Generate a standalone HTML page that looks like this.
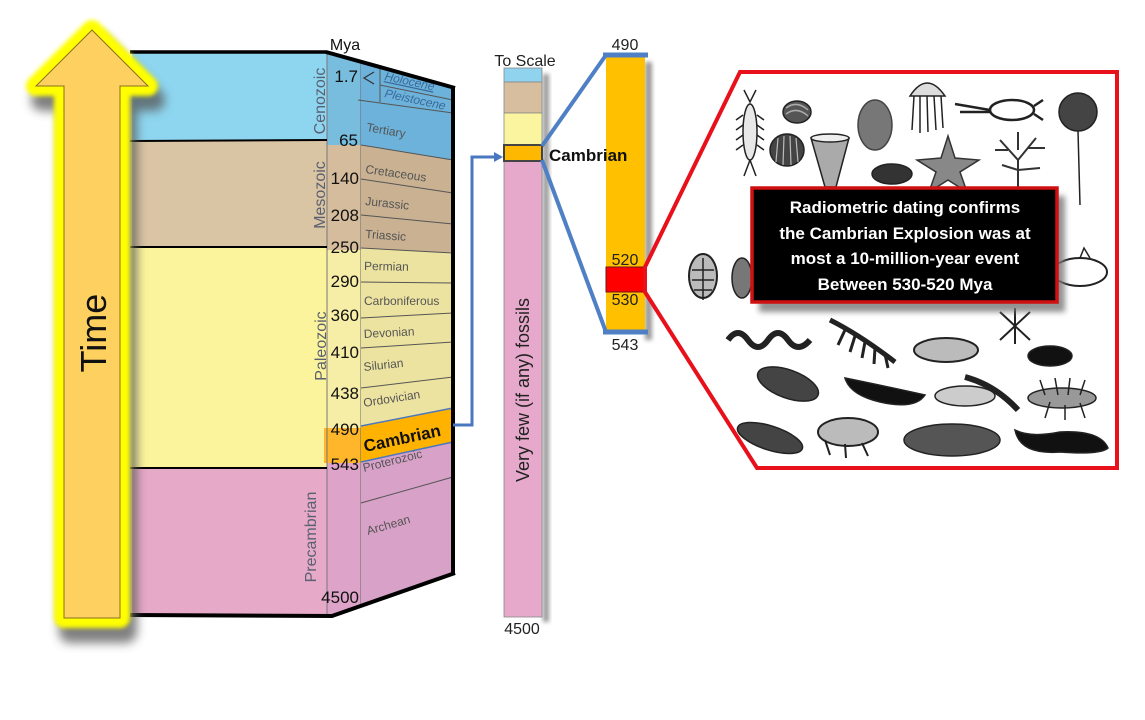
<!DOCTYPE html>
<html><head><meta charset="utf-8"><style>
html,body{margin:0;padding:0;background:#fff;}
svg{display:block;}
text{font-family:"Liberation Sans",sans-serif;}
</style></head><body>
<svg width="1145" height="720" viewBox="0 0 1145 720" xmlns="http://www.w3.org/2000/svg">
<defs>
<filter id="blur5" x="-50%" y="-50%" width="200%" height="200%"><feGaussianBlur stdDeviation="5"/></filter>
<filter id="blur2" x="-50%" y="-50%" width="200%" height="200%"><feGaussianBlur stdDeviation="2"/></filter>
<filter id="blur3" x="-50%" y="-50%" width="200%" height="200%"><feGaussianBlur stdDeviation="3"/></filter>
</defs>
<rect width="1145" height="720" fill="#fff"/>

<!-- LEFT FACE -->
<rect x="132" y="52" width="195" height="89" fill="#8ED6F0"/>
<rect x="132" y="141" width="195" height="106" fill="#D9C4A4"/>
<rect x="132" y="247" width="195" height="221" fill="#FCF49C"/>
<rect x="132" y="468" width="195" height="147" fill="#E6A9C8"/>

<!-- MIDDLE COLUMN -->
<polygon points="327,52 361,61.7 361,145 327,145" fill="#78BCDE"/>
<rect x="327" y="145" width="34" height="105" fill="#D4BC9C"/>
<rect x="327" y="250" width="34" height="178" fill="#F6EDA6"/>
<rect x="324" y="428" width="37" height="35" fill="#FFB62A"/>
<polygon points="327,463 361,463 361,605 333,615 327,615" fill="#DDA3C8"/>
<line x1="327" y1="52" x2="327" y2="615" stroke="#777" stroke-width="1"/>
<line x1="361" y1="61" x2="361" y2="606" stroke="#666" stroke-width="1"/>

<!-- RIGHT COLUMN -->
<polygon points="361,61.7 453,88 453,160 361,145" fill="#6CB2DA"/>
<polygon points="361,145 453,160 453,253 361,248" fill="#C9B191"/>
<polygon points="361,248 453,253 453,408 361,426" fill="#EDE3A0"/>
<polygon points="361,426 453,408 453,442 361,462" fill="#FFB300"/>
<polygon points="361,462 453,442 453,573 361,605" fill="#D8A1C7"/>
<g stroke="#555" stroke-width="1" fill="none">
<line x1="358" y1="100" x2="453" y2="113"/>
<line x1="380" y1="85" x2="453" y2="100"/>
<line x1="380" y1="65" x2="380" y2="102"/>
<line x1="361" y1="145" x2="453" y2="160"/>
<line x1="361" y1="179" x2="453" y2="193"/>
<line x1="361" y1="215" x2="453" y2="224"/>
<line x1="361" y1="248" x2="453" y2="253"/>
<line x1="361" y1="282" x2="453" y2="283"/>
<line x1="361" y1="318" x2="453" y2="313"/>
<line x1="361" y1="348" x2="453" y2="342"/>
<line x1="361" y1="388" x2="453" y2="377"/>
<line x1="361" y1="503" x2="453" y2="477"/>
</g>
<line x1="361" y1="426" x2="453" y2="408" stroke="#4A78C0" stroke-width="1.5"/>
<line x1="361" y1="462" x2="453" y2="442" stroke="#4A78C0" stroke-width="1.5"/>
<path d="M374,72 L364,78 L374,84" stroke="#333" stroke-width="1.2" fill="none"/>

<!-- black outlines -->
<line x1="130" y1="52" x2="327" y2="52" stroke="#000" stroke-width="3.5"/>
<line x1="326" y1="52" x2="455" y2="88" stroke="#000" stroke-width="4"/>
<line x1="453" y1="86" x2="453" y2="575" stroke="#000" stroke-width="4"/>
<line x1="130" y1="141" x2="327" y2="140" stroke="#000" stroke-width="2"/>
<line x1="130" y1="247" x2="327" y2="247" stroke="#000" stroke-width="2"/>
<line x1="130" y1="468" x2="327" y2="468" stroke="#000" stroke-width="2"/>
<line x1="130" y1="615" x2="333" y2="616" stroke="#000" stroke-width="4"/>
<line x1="332" y1="616" x2="455" y2="573" stroke="#000" stroke-width="4"/>

<!-- Right column labels -->
<g fill="#555" font-size="12">
<text x="384" y="80" transform="rotate(12 384 80)" fill="#3a6a9a" font-style="italic" text-decoration="underline">Holocene</text>
<text x="384" y="97" transform="rotate(12 384 97)" fill="#3a6a9a" font-style="italic">Pleistocene</text>
<text x="366" y="131" transform="rotate(10 366 131)">Tertiary</text>
<text x="365" y="173" transform="rotate(8 365 173)">Cretaceous</text>
<text x="365" y="205" transform="rotate(6 365 205)">Jurassic</text>
<text x="365" y="238" transform="rotate(4 365 238)">Triassic</text>
<text x="364" y="270" transform="rotate(1 364 270)">Permian</text>
<text x="364" y="305">Carboniferous</text>
<text x="364" y="338" transform="rotate(-3 364 338)">Devonian</text>
<text x="364" y="371" transform="rotate(-6 364 371)">Silurian</text>
<text x="364" y="407" transform="rotate(-9 364 407)">Ordovician</text>
<text x="364" y="472" transform="rotate(-14 364 472)">Proterozoic</text>
<text x="368" y="535" transform="rotate(-16 368 535)">Archean</text>
</g>
<text x="365" y="452" transform="rotate(-12 365 452)" font-size="17" font-weight="bold" fill="#111">Cambrian</text>

<!-- Numbers -->
<text x="345" y="50" font-size="16" fill="#111" text-anchor="middle">Mya</text>
<g font-size="17" fill="#111" text-anchor="end">
<text x="358" y="82">1.7</text>
<text x="358" y="146">65</text>
<text x="359" y="184">140</text>
<text x="359" y="221">208</text>
<text x="359" y="253">250</text>
<text x="359" y="287">290</text>
<text x="359" y="321">360</text>
<text x="359" y="358">410</text>
<text x="359" y="399">438</text>
<text x="359" y="435">490</text>
<text x="359" y="470">543</text>
<text x="359" y="603">4500</text>
</g>

<!-- Era labels -->
<g font-size="16" fill="#5a6070" text-anchor="middle">
<text x="325" y="101" transform="rotate(-90 325 101)">Cenozoic</text>
<text x="325" y="195" transform="rotate(-90 325 195)">Mesozoic</text>
<text x="326" y="346" transform="rotate(-90 326 346)">Paleozoic</text>
<text x="316" y="537" transform="rotate(-90 316 537)">Precambrian</text>
</g>

<!-- TIME ARROW -->
<polygon points="92,30 148,86 120,86 120,618 64,618 64,86 36,86" fill="#555" stroke="#555" stroke-width="22" stroke-linejoin="round" transform="translate(6,14)" filter="url(#blur5)" opacity="0.75"/>
<polygon points="92,30 148,86 120,86 120,618 64,618 64,86 36,86" fill="#FFFF00" stroke="#FFFF00" stroke-width="20" stroke-linejoin="round" filter="url(#blur2)"/>
<polygon points="92,30 148,86 120,86 120,618 64,618 64,86 36,86" fill="#FDD060" stroke="#8a7020" stroke-width="1"/>
<text x="106" y="333" transform="rotate(-90 106 333)" font-size="36" fill="#111" text-anchor="middle">Time</text>

<!-- Blue connector -->
<path d="M453,425 L472,425 L472,157 L496,157" stroke="#4A78C0" stroke-width="3" fill="none"/>
<polygon points="503,157 494,152 494,162" fill="#4A78C0"/>

<!-- TO SCALE BAR -->
<rect x="543" y="74" width="6" height="548" fill="#999" filter="url(#blur2)"/>
<rect x="504" y="68" width="38" height="14" fill="#8FD3EF" stroke="#888" stroke-width="0.8"/>
<rect x="504" y="82" width="38" height="31" fill="#D6BE9E" stroke="#888" stroke-width="0.8"/>
<rect x="504" y="113" width="38" height="32" fill="#FCF5A0" stroke="#888" stroke-width="0.8"/>
<rect x="504" y="161" width="38" height="456" fill="#E6A9CB" stroke="#888" stroke-width="0.8"/>
<rect x="504" y="145" width="38" height="16" fill="#FFB800" stroke="#444" stroke-width="2"/>
<text x="525" y="66" font-size="16" fill="#222" text-anchor="middle">To Scale</text>
<text x="529" y="390" transform="rotate(-90 529 390)" font-size="18" fill="#222" text-anchor="middle">Very few (if any) fossils</text>
<text x="522" y="634" font-size="16" fill="#222" text-anchor="middle">4500</text>

<!-- ZOOM BAR -->
<rect x="645" y="62" width="7" height="278" fill="#999" filter="url(#blur2)"/>
<rect x="606" y="55" width="39" height="277" fill="#FFC000"/>
<rect x="606" y="267" width="39" height="25" fill="#FF0000" stroke="#6b1a1a" stroke-width="1"/>
<line x1="542" y1="146" x2="606" y2="55" stroke="#4F7FC4" stroke-width="4"/>
<line x1="542" y1="160" x2="606" y2="332" stroke="#4F7FC4" stroke-width="4"/>
<line x1="603" y1="55" x2="648" y2="55" stroke="#4F7FC4" stroke-width="5"/>
<line x1="603" y1="332" x2="648" y2="332" stroke="#4F7FC4" stroke-width="5"/>
<g font-size="16" fill="#222" text-anchor="middle">
<text x="625" y="50">490</text>
<text x="625" y="265">520</text>
<text x="625" y="305">530</text>
<text x="625" y="350">543</text>
</g>
<text x="549" y="161" font-size="17" font-weight="bold" fill="#111">Cambrian</text>

<!-- RED CALLOUT -->
<polygon points="645,267 740,72 1117,72 1117,468 757,468 645,292" fill="#fff" stroke="#E8101A" stroke-width="4" stroke-linejoin="miter"/>

<!-- FOSSILS (approximations) -->
<g stroke="#222" fill="none" stroke-width="1.5">
<ellipse cx="750" cy="132" rx="7" ry="28" fill="#e8e8e8"/>
<path d="M744,90 L750,102 L756,90 M750,160 L744,176 M750,160 L756,176"/>
<path d="M743,115 L736,120 M743,125 L736,130 M743,135 L736,140 M743,145 L736,150 M757,115 L764,120 M757,125 L764,130 M757,135 L764,140 M757,145 L764,150"/>
<ellipse cx="797" cy="112" rx="14" ry="11" fill="#555"/>
<path d="M786,108 Q797,100 808,110 M786,114 Q797,106 808,116" stroke="#aaa"/>
<ellipse cx="875" cy="125" rx="17" ry="25" fill="#777" stroke="#444"/>
<path d="M910,96 Q927,70 945,96 Z" fill="#ddd"/>
<path d="M914,96 L912,130 M920,96 L920,133 M927,96 L928,132 M934,96 L936,130 M941,96 L943,128"/>
<ellipse cx="1012" cy="110" rx="22" ry="10" fill="#fff" stroke-width="2.5"/>
<path d="M955,104 L990,110 M960,112 L990,112 M1034,106 L1043,100 M1034,114 L1043,120" stroke-width="2.5"/>
<circle cx="1078" cy="112" r="19" fill="#444"/>
<line x1="1078" y1="131" x2="1080" y2="205"/>
<ellipse cx="787" cy="150" rx="17" ry="16" fill="#444"/>
<path d="M778,138 L776,162 M784,136 L783,165 M790,136 L791,165 M796,138 L798,162" stroke="#bbb" stroke-width="1.2"/>
<polygon points="811,138 849,138 836,187 825,187" fill="#aaa"/>
<ellipse cx="830" cy="138" rx="19" ry="4" fill="#eee"/>
<polygon points="948,136 955,158 979,160 960,172 967,192 948,180 929,192 936,172 917,160 941,158" fill="#888" stroke="#333"/>
<path d="M1018,188 L1018,160 L1000,140 M1018,160 L1036,138 M1008,150 L995,150 M1028,148 L1045,148 M1018,170 L1002,165 M1018,170 L1040,168 M1018,150 L1018,132" stroke="#333" stroke-width="2"/>
<ellipse cx="892" cy="174" rx="20" ry="10" fill="#333"/>
<ellipse cx="703" cy="276" rx="14" ry="22" fill="#bbb" stroke="#222" stroke-width="2"/>
<path d="M703,258 L703,300 M692,270 L714,270 M692,280 L714,280 M694,290 L712,290"/>
<ellipse cx="742" cy="278" rx="10" ry="20" fill="#777"/>
<ellipse cx="1080" cy="272" rx="27" ry="14" fill="#fff" stroke-width="2"/>
<path d="M1080,258 L1084,248 L1090,258" />
<path d="M728,340 q10,-14 20,0 t20,0 t20,0 t22,0" stroke-width="6"/>
<path d="M830,320 Q860,335 895,362" stroke-width="5"/>
<path d="M845,330 L838,345 M855,336 L850,352 M865,342 L862,358 M875,348 L874,364 M885,354 L888,368" stroke-width="3"/>
<ellipse cx="946" cy="350" rx="32" ry="12" fill="#bbb" stroke-width="2"/>
<path d="M1000,312 L1030,340 M1030,312 L1000,340 M1015,308 L1015,344" stroke-width="2"/>
<ellipse cx="1050" cy="356" rx="22" ry="10" fill="#111"/>
<ellipse cx="788" cy="384" rx="32" ry="14" fill="#444" transform="rotate(20 788 384)"/>
<path d="M845,378 Q880,385 925,395 Q915,410 880,402 Q850,395 845,378 Z" fill="#111"/>
<ellipse cx="965" cy="396" rx="30" ry="10" fill="#ccc"/>
<path d="M965,377 Q995,385 1018,410" stroke-width="6"/>
<ellipse cx="1062" cy="398" rx="34" ry="10" fill="#999"/>
<path d="M1040,380 L1045,395 M1055,378 L1058,395 M1070,378 L1068,395 M1085,380 L1080,395 M1045,418 L1050,402 M1065,420 L1065,405 M1085,418 L1080,403" stroke-width="1.5"/>
<ellipse cx="770" cy="438" rx="34" ry="12" fill="#444" transform="rotate(18 770 438)"/>
<ellipse cx="848" cy="432" rx="30" ry="14" fill="#bbb" stroke-width="2"/>
<path d="M825,440 L830,455 M845,444 L846,458 M862,443 L868,456" stroke-width="2"/>
<ellipse cx="952" cy="440" rx="48" ry="16" fill="#555"/>
<path d="M1015,430 Q1020,455 1060,452 Q1100,455 1108,448 Q1100,430 1060,432 Q1030,438 1015,430 Z" fill="#111"/>
</g>

<!-- TEXT BOX -->
<rect x="759" y="196" width="306" height="116" fill="#777" filter="url(#blur3)" opacity="0.8"/>
<rect x="752" y="188" width="305" height="114" fill="#000" stroke="#D01010" stroke-width="3.5"/>
<g font-size="17" font-weight="bold" fill="#fff" text-anchor="middle">
<text x="905" y="213">Radiometric dating confirms</text>
<text x="905" y="239">the Cambrian Explosion was at</text>
<text x="905" y="264">most a 10-million-year event</text>
<text x="905" y="290">Between 530-520 Mya</text>
</g>
</svg>
</body></html>
